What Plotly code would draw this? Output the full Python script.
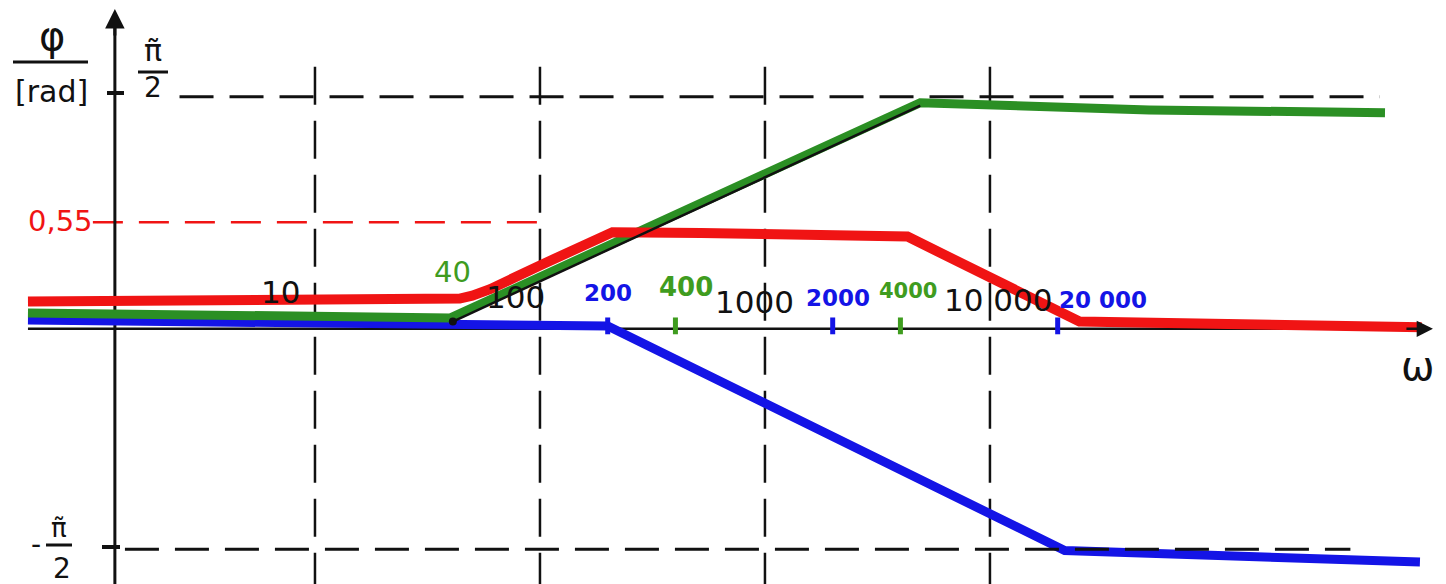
import numpy as np
import plotly.graph_objects as go

W, H = 1446, 584
HALF_PI = np.pi / 2

# ---- data (omega in rad/s, phase in rad) ----
red_w = [0.53, 44, 50, 60, 100, 210, 520, 4300, 25000, 830000]
red_phi = [0.15, 0.17, 0.19, 0.235, 0.40, 0.63, 0.625, 0.60, 0.01, -0.03]

green_w = [0.53, 40, 4900, 51000, 570000]
green_phi = [0.07, 0.035, 1.53, 1.48, 1.46]

blue_w = [0.53, 200, 21500, 815000]
blue_phi = [0.02, -0.02, -1.58, -1.66]

asym_w = [41, 4900]
asym_phi = [0.01, 1.51]

grid_w = [10, 100, 1000, 10000]
grid_labels = ["10", "100", "1000", "10 000"]
blue_marks = [200, 2000, 20000]
blue_labels = ["200", "2000", "20 000"]
green_marks = [400, 4000]
green_labels = ["400", "4000"]
green_corner = [40]
green_corner_labels = ["40"]
ref_level = 0.70            # red dashed reference drawn in the sketch
ref_label = "0,55"

RED = "#f01414"
GREEN = "#2b8f24"
GREEN_T = "#3f9c1f"
BLUE = "#1414e6"
BLACK = "#111111"
FONT = "DejaVu Sans"

# y mapping: zero at pixel 323, 144 px per rad
Y0, S = 323, 144.0
y_range = [-(H - Y0) / S, Y0 / S]
x_range = [-0.4, 6.027]

fig = go.Figure()

def line(x, y, color, width, dash=None):
    fig.add_trace(go.Scatter(x=x, y=y, mode="lines", hoverinfo="skip",
                             line=dict(color=color, width=width, dash=dash),
                             showlegend=False))

# vertical dashed grid
for w in grid_w:
    line([w, w], [1.78, y_range[0]], BLACK, 2.5, dash="38px,16px")

# red dashed reference
line([1.03, 100], [ref_level, ref_level], RED, 2.5, dash="30px,16px")

# axes
line([0.53, 900000], [-0.04, -0.04], BLACK, 2.5)
line([1.29, 1.29], [y_range[0], 2.14], BLACK, 3)

# curves
line(blue_w, blue_phi, BLUE, 9)
line(green_w, green_phi, GREEN, 9)
line(red_w, red_phi, RED, 10)
line(asym_w, asym_phi, BLACK, 2.5)

# +-pi/2 dashed references (drawn over the curves)
line([2.5, 540000], [HALF_PI, HALF_PI], BLACK, 3, dash="34px,16px")
line([1.43, 400000], [-HALF_PI, -HALF_PI], BLACK, 3, dash="34px,16px")

# colored tick marks on the omega axis
fig.add_trace(go.Scatter(x=blue_marks, y=[-0.02] * len(blue_marks), mode="markers",
                         hoverinfo="skip", showlegend=False,
                         marker=dict(symbol="line-ns-open", size=12, color=BLUE,
                                     line=dict(color=BLUE, width=5))))
fig.add_trace(go.Scatter(x=green_marks, y=[-0.02] * len(green_marks), mode="markers",
                         hoverinfo="skip", showlegend=False,
                         marker=dict(symbol="line-ns-open", size=12, color=GREEN_T,
                                     line=dict(color=GREEN_T, width=5))))
fig.add_trace(go.Scatter(x=[asym_w[0]], y=[asym_phi[0]], mode="markers",
                         hoverinfo="skip", showlegend=False,
                         marker=dict(size=8, color=BLACK)))

ann = []

def lab(w, text, color, size, dx, dy, bold=False):
    t = f"<b>{text}</b>" if bold else text
    ann.append(dict(x=np.log10(w), y=0, xref="x", yref="y", text=t, showarrow=False,
                    xanchor="center", yanchor="middle",
                    xshift=dx, yshift=dy, font=dict(family=FONT, size=size, color=color)))

grid_shift = [(-34, 31), (-24, 26), (-10, 21), (8, 23)]
for w, t, (dx, dy) in zip(grid_w, grid_labels, grid_shift):
    lab(w, t, BLACK, 31, dx, dy)
blue_shift = [(0, 30), (5, 25), (45, 23)]
for w, t, (dx, dy) in zip(blue_marks, blue_labels, blue_shift):
    lab(w, t, BLUE, 23, dx, dy, bold=True)
green_shift = [(11, 36), (8, 32)]
for w, t, (dx, dy) in zip(green_marks, green_labels, green_shift):
    lab(w, t, GREEN_T, 26 if t == "400" else 21, dx, dy, bold=True)
for w, t in zip(green_corner, green_corner_labels):
    lab(w, t, GREEN_T, 29, 2, 51)

def ptxt(px, py, text, size, color=BLACK):
    ann.append(dict(x=px / W, y=1 - py / H, xref="paper", yref="paper", text=text,
                    xanchor="center", yanchor="middle",
                    showarrow=False, font=dict(family=FONT, size=size, color=color)))

ptxt(60, 221, ref_label, 29, RED)
ptxt(1418, 366, "ω", 40)
ptxt(52, 36, "φ", 40)
ptxt(52, 91, "[rad]", 30)
ptxt(153, 50, "\u03c0\u0303", 30)
ptxt(153, 88, "2", 28)
ptxt(36, 544, "-", 28)
ptxt(59, 528, "\u03c0\u0303", 26)
ptxt(62, 568, "2", 28)

# arrowheads
ann.append(dict(x=np.log10(931000), y=-0.04, xref="x", yref="y", ax=-28, ay=0,
                showarrow=True, arrowhead=2, arrowsize=1.3, arrowwidth=2.5,
                arrowcolor=BLACK, text=""))
ann.append(dict(x=np.log10(1.29), y=2.18, xref="x", yref="y", ax=0, ay=28,
                showarrow=True, arrowhead=2, arrowsize=1.3, arrowwidth=3,
                arrowcolor=BLACK, text=""))

shapes = []

def pline(x0, y0, x1, y1, w=3):
    shapes.append(dict(type="line", xref="paper", yref="paper", x0=x0 / W, x1=x1 / W,
                       y0=1 - y0 / H, y1=1 - y1 / H, line=dict(color=BLACK, width=w)))

pline(13, 62, 88, 62)
pline(138, 72, 168, 72)
pline(46, 545, 72, 545)
pline(107, 93, 124, 93, 4)
pline(102, 547, 120, 547, 4)

fig.update_layout(
    width=W, height=H, margin=dict(l=0, r=0, t=0, b=0),
    paper_bgcolor="white", plot_bgcolor="white",
    xaxis=dict(type="log", range=x_range, visible=False),
    yaxis=dict(range=y_range, visible=False),
    annotations=ann, shapes=shapes, showlegend=False,
)

fig.write_html("out.html")
